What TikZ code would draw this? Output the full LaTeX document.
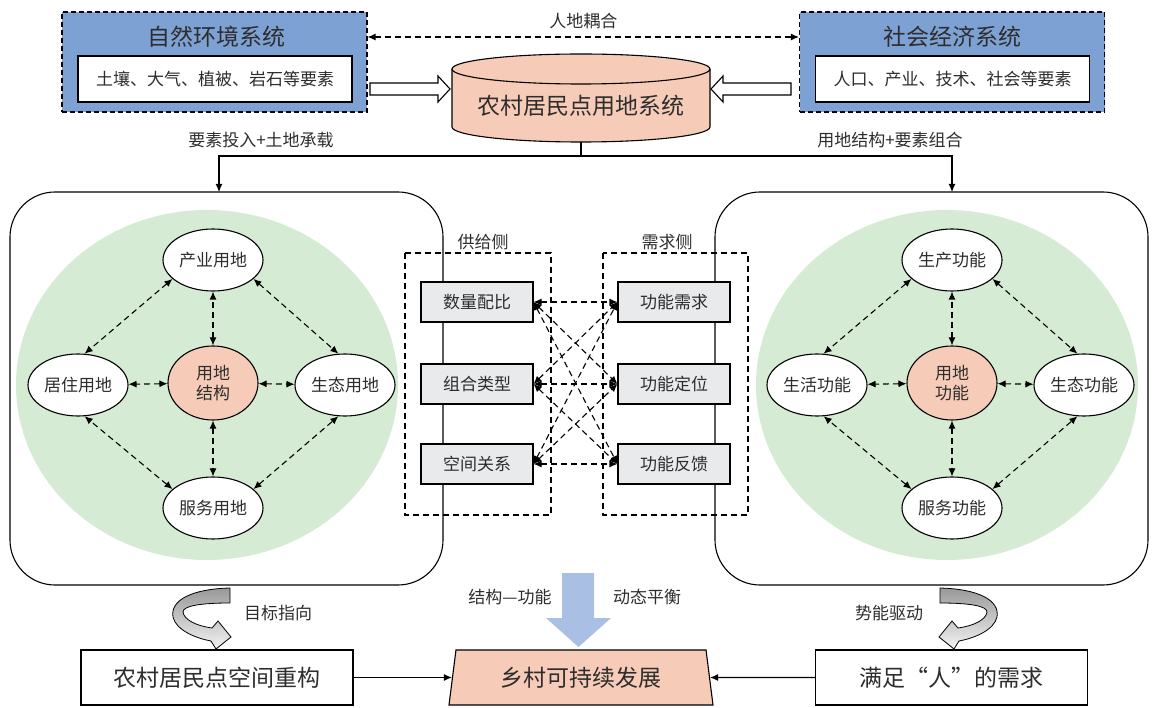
\documentclass[tikz,border=0pt]{standalone}
\usepackage{fontspec}
\setmainfont{Noto Sans CJK SC}
\usetikzlibrary{arrows.meta, shapes.geometric, positioning, calc}
\definecolor{sysblue}{RGB}{126, 161, 212}
\definecolor{landpink}{RGB}{246, 204, 184}
\definecolor{softgreen}{RGB}{214, 235, 211}
\definecolor{boxgray}{RGB}{233, 234, 236}
\definecolor{flowblue}{RGB}{169, 191, 228}
\definecolor{inkgray}{RGB}{45, 45, 45}

\tikzset{
  every node/.style={font=\fontsize{17}{20}\selectfont, text=inkgray},
  bigfont/.style={font=\fontsize{23}{27}\selectfont},
  sysbox/.style={draw, fill=sysblue, dash pattern=on 5pt off 3pt, line width=1.1pt,
    minimum width=305pt, minimum height=100pt},
  itembox/.style={draw, fill=white, line width=1.1pt, minimum width=274pt, minimum height=46pt},
  landnode/.style={ellipse, draw, fill=white, line width=1.1pt, inner sep=0pt,
    minimum width=100pt, minimum height=62pt},
  corenode/.style={landnode, fill=landpink, minimum width=90pt, minimum height=74pt, align=center},
  sidebox/.style={draw, fill=boxgray, line width=1.1pt, minimum width=112pt, minimum height=40pt},
  endbox/.style={draw, fill=white, line width=1.1pt, minimum width=272pt, minimum height=55pt, bigfont},
  goalbox/.style={trapezium, draw, fill=landpink, line width=1.1pt, trapezium angle=76,
    trapezium stretches body, minimum width=264pt, minimum height=55pt, bigfont},
  frame/.style={draw, line width=1.1pt, dash pattern=on 6pt off 4pt},
  hollow/.style={draw, fill=white, line width=1.1pt},
  link/.style={line width=1.1pt, dash pattern=on 6pt off 4pt,
    {Latex[length=8pt,width=7pt]}-{Latex[length=8pt,width=7pt]}},
  feed/.style={line width=1.1pt, -{Latex[length=8pt,width=7pt]}},
}

\begin{document}
\begin{tikzpicture}[x=1pt, y=-1pt]
  \useasboundingbox (0,0) rectangle (1152,708);

  % two outer systems
  \node[sysbox] (natL) at (214.5,62) {};
  \node[bigfont] (natT) at (216,37) {自然环境系统};
  \node[itembox] (natI) at (215,79) {土壤、大气、植被、岩石等要素};
  \node[sysbox] (socL) at (952,62) {};
  \node[bigfont] (socT) at (952,37) {社会经济系统};
  \node[itembox] (socI) at (952.5,79) {人口、产业、技术、社会等要素};
  \draw[link] (natL.east |- natT) -- node[above=4pt] {人地耦合} (socL.west |- socT);

  % land use system cylinder
  \fill[landpink] (452,69) -- (452,127)
    arc[start angle=180, end angle=360, x radius=129pt, y radius=15pt] -- (710,69) -- cycle;
  \draw[line width=1.1pt] (452,69) -- (452,127)
    arc[start angle=180, end angle=360, x radius=129pt, y radius=15pt] -- (710,69);
  \filldraw[fill=landpink, line width=1.1pt] (581,69) ellipse [x radius=129pt, y radius=15pt];
  \node[bigfont] (cyl) at (581,106) {农村居民点用地系统};
  \coordinate (cylbot) at (581,142);

  \draw[hollow] (370,83) -- (438,83) -- (438,76) -- (450,89) -- (438,102) -- (438,95) -- (370,95) -- cycle;
  \draw[hollow] (791,83) -- (723,83) -- (723,76) -- (711,89) -- (723,102) -- (723,95) -- (791,95) -- cycle;

  \coordinate (split) at (581,156);
  \coordinate (inL) at (219,192);
  \coordinate (inR) at (952,192);
  \draw[line width=1.1pt] (cylbot) -- (split);
  \draw[feed] (split) -| (inL);
  \draw[feed] (split) -| (inR);
  \node at (261,140) {要素投入+土地承载};
  \node at (890,140) {用地结构+要素组合};

  % structure and function panels
  \draw[line width=1.1pt, rounded corners=45pt] (10,192) rectangle (443,585);
  \draw[line width=1.1pt, rounded corners=45pt] (715,192) rectangle (1148,585);
  \foreach \dx in {0,740}
    \fill[softgreen] (207+\dx,385) ellipse [x radius=191pt, y radius=175pt];

  \node[landnode] (ltop) at (213,260) {产业用地};
  \node[landnode] (lleft) at (78,385) {居住用地};
  \node[corenode] (lmid) at (213,383) {用地\\结构};
  \node[landnode] (lright) at (345,385) {生态用地};
  \node[landnode] (lbot) at (213,508) {服务用地};

  \node[landnode] (rtop) at (952,260) {生产功能};
  \node[landnode] (rleft) at (817,385) {生活功能};
  \node[corenode] (rmid) at (952,383) {用地\\功能};
  \node[landnode] (rright) at (1084,385) {生态功能};
  \node[landnode] (rbot) at (952,508) {服务功能};

  \foreach \p in {l,r} {
    \foreach \n in {top,left,right,bot}
      \draw[link] (\p mid) -- (\p\n);
    \draw[link] (\p top.205) -- (\p left.78);
    \draw[link] (\p top.-25) -- (\p right.102);
    \draw[link] (\p bot.155) -- (\p left.-78);
    \draw[link] (\p bot.25) -- (\p right.-102);
  }

  % supply and demand
  \draw[frame] (405,253) rectangle (551,515);
  \draw[frame] (603,253) rectangle (748,515);
  \node at (483,242) {供给侧};
  \node at (667,242) {需求侧};
  \foreach \i/\y/\s/\d in {1/302/数量配比/功能需求, 2/384/组合类型/功能定位, 3/464/空间关系/功能反馈} {
    \node[sidebox] (sup\i) at (477,\y) {\s};
    \node[sidebox] (dem\i) at (674,\y) {\d};
  }
  \foreach \i in {1,2,3}
    \foreach \j in {1,2,3}
      \draw[link] (sup\i.east) -- (dem\j.west);

  % towards sustainable development
  \fill[flowblue] (562,573) -- (594,573) -- (594,618) -- (611,618) -- (578.5,647) -- (546,618) -- (562,618) -- cycle;
  \node at (510,597) {结构—功能};
  \node at (647,597) {动态平衡};

  \foreach \s/\o in {1/0,-1/1170} {
    \begin{scope}[xshift=\o pt, xscale=\s]
      \draw[line width=0.8pt, top color=gray!80, bottom color=gray!10]
        (230,588) .. controls (192,589) and (170,600) .. (173,617)
        .. controls (176,630) and (195,638) .. (211,641)
        -- (216,649) -- (231,637) -- (218,621) -- (212,628)
        .. controls (197,626) and (184,620) .. (183,612)
        .. controls (183,606) and (200,603) .. (230,603) -- cycle;
    \end{scope}
  }
  \node at (278,613) {目标指向};
  \node at (889,613) {势能驱动};

  \node[endbox] (rebuild) at (217,677.5) {农村居民点空间重构};
  \node[goalbox] (goal) at (581,677.5) {乡村可持续发展};
  \node[endbox] (need) at (951.5,677.5) {满足“人”的需求};
  \draw[feed] (rebuild) -- (goal);
  \draw[feed] (need) -- (goal);
\end{tikzpicture}
\end{document}
